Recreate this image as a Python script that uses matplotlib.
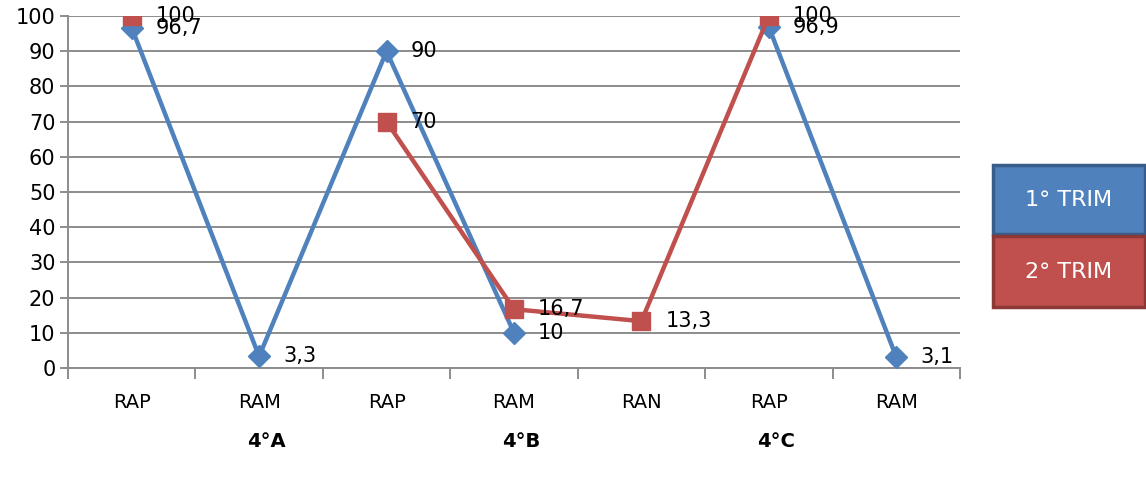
import numpy as np
import matplotlib.pyplot as plt
from matplotlib.patches import Rectangle
from matplotlib.transforms import offset_copy, blended_transform_factory

plt.rcParams['font.family'] = ['DejaVu Sans']

# categories
categories = ["RAP", "RAM", "RAP", "RAM", "RAN", "RAP", "RAM"]
groups = ["4°A", "4°B", "4°C"]
group_pos = [1, 3, 5]

# series (nan = no value)
trim1 = [96.7, 3.3, 90, 10, np.nan, 96.9, 3.1]
trim2 = [100, np.nan, 70, 16.7, 13.3, 100, np.nan]
series_names = ["1° TRIM", "2° TRIM"]

blue = "#4F81BD"
red = "#C0504D"
grid_col = "#8C8C8C"

fig = plt.figure(figsize=(11.46, 4.87), dpi=100)
ax = fig.add_axes([0.0593, 0.2444, 0.8377 - 0.0593, 0.967 - 0.2444])

x = np.arange(len(categories))
ax.plot(x, trim1, color=blue, lw=3.2, marker="D", ms=11, zorder=3)
ax.plot(x, trim2, color=red, lw=3.2, marker="s", ms=13.5, zorder=4)

# data labels
for vals in (trim1, trim2):
    for xi, v in zip(x, vals):
        if np.isnan(v):
            continue
        tr = offset_copy(ax.transData, fig=fig, x=24, y=0, units="dots")
        ax.text(xi, v, f"{v:g}".replace(".", ","), transform=tr,
                ha="left", va="center", fontsize=15, color="black",
                zorder=5, clip_on=False)

ax.set_xlim(-0.5, len(categories) - 0.5)
ax.set_ylim(0, 100)
ax.set_yticks(range(0, 101, 10))
ax.yaxis.grid(True, color=grid_col, lw=1.4)
ax.set_axisbelow(True)

ax.set_xticks(x)
ax.set_xticklabels(categories, fontsize=14)
ax.set_xticks(np.arange(-0.5, len(categories), 1), minor=True)
ax.tick_params(axis="x", which="major", length=0, pad=18)
ax.tick_params(axis="x", which="minor", length=8, width=1.4, color=grid_col)
ax.tick_params(axis="y", length=6, width=1.4, color=grid_col, labelsize=15, pad=3)

for s in ("top", "right"):
    ax.spines[s].set_visible(False)
for s in ("left", "bottom"):
    ax.spines[s].set_color(grid_col)
    ax.spines[s].set_linewidth(1.4)

# group labels
btr = blended_transform_factory(ax.transData, ax.transAxes)
for g, p in zip(groups, group_pos):
    ax.text(p + 0.06, -0.21, g, transform=btr, ha="center", va="center",
            fontsize=14, fontweight="bold")

# legend boxes
W, H = 1146, 487
boxes = [(993, 165, 1145, 234, blue, "#385D8A"),
         (993, 236, 1145, 307, red, "#8C3836")]
for (x0, y0, x1, y1, fc, ec), name in zip(boxes, series_names):
    r = Rectangle((x0 / W, 1 - y1 / H), (x1 - x0) / W, (y1 - y0) / H,
                  transform=fig.transFigure, facecolor=fc, edgecolor=ec,
                  lw=2.5, clip_on=False)
    fig.patches.append(r)
    fig.text((x0 + x1) / 2 / W, 1 - (y0 + y1) / 2 / H, name, color="white",
             ha="center", va="center", fontsize=16)

plt.savefig("out.png")
